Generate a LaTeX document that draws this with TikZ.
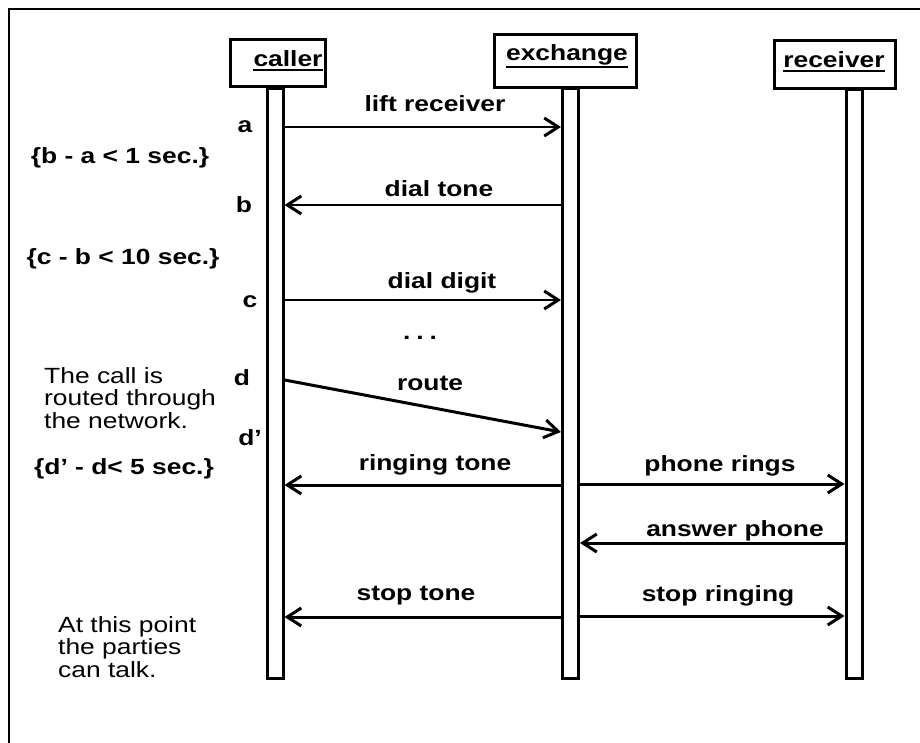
\documentclass[tikz,border=0pt]{standalone}
\usepackage{fontspec}
\setmainfont{Liberation Sans}[FakeStretch=1.2]
\usetikzlibrary{arrows.meta}
\begin{document}
\begin{tikzpicture}[x=1pt,y=-1pt,
  bar/.style={draw, line width=3pt, fill=white, minimum width=16pt, minimum height=589pt, inner sep=0pt},
  actor/.style={draw, line width=3pt, fill=white, inner sep=0pt},
  atext/.style={anchor=base, inner sep=0pt, font=\fontsize{22}{22}\selectfont\bfseries},
  lbl/.style={anchor=base, inner sep=0pt, font=\fontsize{22}{22}\selectfont\bfseries},
  note/.style={anchor=base west, inner sep=0pt, align=left, font=\fontsize{22}{22.5}\selectfont},
  tip/.style={-{Straight Barb[length=14pt,width=18pt,line width=3pt]}},
  thin/.style={tip, line width=1.4pt},
  thick/.style={tip, line width=3pt},
  uline/.style={line width=2.5pt}
]
\useasboundingbox (0,0) rectangle (920,743);
% frame (only top and left edges visible)
\coordinate (fbl) at (9,743);
\coordinate (ftl) at (9,9);
\coordinate (ftr) at (920,9);
\draw[line width=2pt] (fbl) -- (ftl) -- (ftr);

% lifeline bars
\node[bar] (cbar) at (275,383.5) {};
\node[bar] (xbar) at (570.5,383.5) {};
\node[bar] (rbar) at (854,384) {};

% actor boxes
\node[actor, minimum width=95pt, minimum height=47pt] (caller) at (278,63) {};
\node[actor, minimum width=142pt, minimum height=53pt] (exchange) at (565.5,61) {};
\node[actor, minimum width=121pt, minimum height=48pt] (receiver) at (835,64.5) {};
\node[atext] (callerT) at (288,67) {caller};
\node[atext] (exchangeT) at (567,61) {exchange};
\node[atext] (receiverT) at (834,68) {receiver};
\draw[uline] ([yshift=-3pt]callerT.base west) -- ([yshift=-3pt]callerT.base east);
\draw[uline] ([yshift=-6pt]exchangeT.base west) -- ([yshift=-6pt]exchangeT.base east);
\draw[uline] ([yshift=-3pt]receiverT.base west) -- ([yshift=-3pt]receiverT.base east);

% messages
\draw[thin] (cbar.east |- 0,127) -- (xbar.west |- 0,127);
\node[lbl] (m1) at (435,112) {lift receiver};
\draw[thin] (xbar.west |- 0,205) -- (cbar.east |- 0,205);
\node[lbl] (m2) at (439,197) {dial tone};
\draw[thin] (cbar.east |- 0,300) -- (xbar.west |- 0,300);
\node[lbl] (m3) at (442,288) {dial digit};
\node[lbl] (dots) at (420,339) {.\hspace{6pt}.\hspace{6pt}.};
\draw[thick] (cbar.east |- 0,380) -- (xbar.west |- 0,432);
\node[lbl] (m4) at (430,390) {route};
\draw[thick] (xbar.west |- 0,485) -- (cbar.east |- 0,485);
\node[lbl] (m5) at (435,470) {ringing tone};
\draw[thick] (xbar.east |- 0,484) -- (rbar.west |- 0,484);
\node[lbl] (m6) at (720,471) {phone rings};
\draw[thick] (rbar.west |- 0,543) -- (xbar.east |- 0,543);
\node[lbl] (m7) at (735,536) {answer phone};
\draw[thick] (xbar.west |- 0,617) -- (cbar.east |- 0,617);
\node[lbl] (m8) at (416,600) {stop tone};
\draw[thick] (xbar.east |- 0,616) -- (rbar.west |- 0,616);
\node[lbl] (m9) at (718,601) {stop ringing};

% time marks
\node[lbl] (ta) at (245,133) {a};
\node[lbl] (tb) at (244,213) {b};
\node[lbl] (tc) at (250,307) {c};
\node[lbl] (td) at (242,385) {d};
\node[lbl] (td2) at (250,445) {d'};

% constraints
\node[lbl] (k1) at (120,164) {\{b - a < 1 sec.\}};
\node[lbl] (k2) at (123,265) {\{c - b < 10 sec.\}};
\node[lbl] (k3) at (124,474) {\{d' - d< 5 sec.\}};

% notes (base = baseline of last line)
\node[note] (n1) at (44,428) {The call is\\routed through\\the network.};
\node[note] (n2) at (58,677) {At this point\\the parties\\can talk.};
\end{tikzpicture}
\end{document}
